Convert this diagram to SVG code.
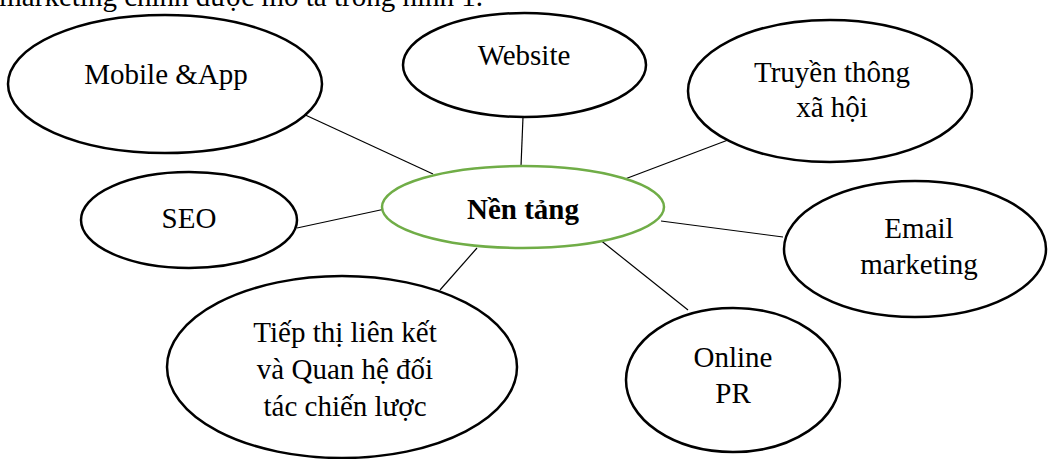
<svg xmlns="http://www.w3.org/2000/svg" width="1048" height="459" viewBox="0 0 1048 459">
<style>
.n{fill:#fff;stroke:#000;stroke-width:2.5}
.c{fill:#fff;stroke:#70AD47;stroke-width:2.5}
.t{font-family:"Liberation Serif","Times New Roman",serif;font-size:29px;fill:#000;text-anchor:middle}
.b{font-weight:bold}
.l{stroke:#000;stroke-width:1.2;fill:none}
</style>
<rect width="1048" height="459" fill="#fff"/>
<text class="t" x="483" y="6" style="text-anchor:end">marketing chính được mô tả trong hình 1.</text>
<g id="connectors">
<line class="l" x1="301" y1="113" x2="433" y2="174"/>
<line class="l" x1="523" y1="117" x2="521" y2="166"/>
<line class="l" x1="728" y1="140" x2="625" y2="179"/>
<line class="l" x1="297" y1="228" x2="385" y2="209"/>
<line class="l" x1="661" y1="221" x2="783" y2="237"/>
<line class="l" x1="477" y1="248" x2="440" y2="290"/>
<line class="l" x1="599" y1="239" x2="688" y2="310"/>
</g>
<g id="mobile">
<ellipse class="n" cx="165" cy="84" rx="157" ry="69"/>
<text class="t" x="166" y="84">Mobile &amp;App</text>
</g>
<g id="website">
<ellipse class="n" cx="524.5" cy="65" rx="121.5" ry="52"/>
<text class="t" x="524" y="65">Website</text>
</g>
<g id="social">
<ellipse class="n" cx="830" cy="91" rx="142" ry="71"/>
<text class="t" x="832" y="82">Truyền thông</text>
<text class="t" x="832" y="117">xã hội</text>
</g>
<g id="seo">
<ellipse class="n" cx="189" cy="220" rx="108" ry="48"/>
<text class="t" x="189" y="228">SEO</text>
</g>
<g id="center">
<ellipse class="c" cx="523" cy="207" rx="141" ry="41"/>
<text class="t b" x="523" y="219">Nền tảng</text>
</g>
<g id="email">
<ellipse class="n" cx="915" cy="249" rx="131" ry="68"/>
<text class="t" x="919" y="238">Email</text>
<text class="t" x="919" y="274">marketing</text>
</g>
<g id="affiliate">
<ellipse class="n" cx="342" cy="367" rx="175" ry="91"/>
<text class="t" x="345" y="342">Tiếp thị liên kết</text>
<text class="t" x="345" y="379">và Quan hệ đối</text>
<text class="t" x="345" y="416">tác chiến lược</text>
</g>
<g id="pr">
<ellipse class="n" cx="733" cy="380" rx="107" ry="72"/>
<text class="t" x="733" y="367">Online</text>
<text class="t" x="733" y="403">PR</text>
</g>
</svg>
